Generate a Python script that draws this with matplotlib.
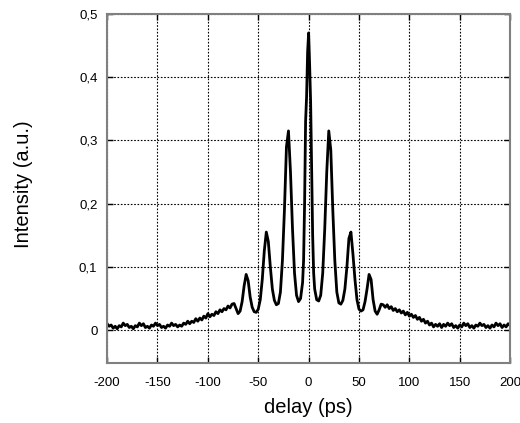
import numpy as np
import matplotlib.pyplot as plt

plt.rcParams['font.family'] = ['Liberation Sans', 'DejaVu Sans']

# delay (ps) / intensity (a.u.), in segments
delay_left = [-200, -198, -196, -194, -192, -190, -188, -186, -184, -182,
              -180, -178, -176, -174, -172, -170, -168, -166, -164, -162,
              -160, -158, -156, -154, -152, -150, -148, -146, -144, -142,
              -140, -138, -136, -134, -132, -130, -128, -126, -124, -122,
              -120, -118, -116, -114, -112, -110, -108, -106, -104, -102,
              -100, -98, -96, -94, -92, -90, -88, -86, -84, -82,
              -80, -78, -76]
int_left = [0.010, 0.006, 0.008, 0.003, 0.006, 0.002, 0.007, 0.005, 0.011, 0.007,
            0.009, 0.004, 0.006, 0.002, 0.007, 0.005, 0.011, 0.007, 0.010, 0.004,
            0.006, 0.003, 0.008, 0.006, 0.011, 0.007, 0.009, 0.004, 0.006, 0.003,
            0.008, 0.006, 0.011, 0.007, 0.009, 0.005, 0.008, 0.006, 0.011, 0.009,
            0.014, 0.010, 0.014, 0.012, 0.018, 0.014, 0.019, 0.016, 0.022, 0.019,
            0.026, 0.021, 0.025, 0.023, 0.029, 0.026, 0.032, 0.029, 0.034, 0.032,
            0.038, 0.035, 0.041]

delay_peaks_l = [-74, -72, -70, -68, -66, -64, -62, -60, -58, -56,
                 -54, -52, -50, -48, -46, -44, -42, -40, -38, -36,
                 -34, -32, -30, -28, -26, -24, -22, -20, -18, -16,
                 -14, -12, -10, -8, -6]
int_peaks_l = [0.042, 0.034, 0.026, 0.030, 0.045, 0.070, 0.088, 0.078, 0.052, 0.036,
               0.029, 0.028, 0.033, 0.048, 0.080, 0.125, 0.155, 0.140, 0.100, 0.065,
               0.047, 0.040, 0.042, 0.060, 0.110, 0.190, 0.290, 0.315, 0.250, 0.160,
               0.090, 0.055, 0.045, 0.050, 0.075]

delay_center = [-5, -4, -3, -2, -1, 0, 1, 2, 3, 4, 5]
int_center = [0.110, 0.200, 0.330, 0.370, 0.440, 0.470, 0.420, 0.360, 0.250, 0.150, 0.090]

delay_peaks_r = [6, 8, 10, 12, 14, 16, 18, 20, 22, 24,
                 26, 28, 30, 32, 34, 36, 38, 40, 42, 44,
                 46, 48, 50, 52, 54, 56, 58, 60, 62, 64,
                 66, 68, 70, 72, 74]
int_peaks_r = [0.065, 0.048, 0.046, 0.055, 0.090, 0.160, 0.250, 0.315, 0.285, 0.190,
               0.110, 0.060, 0.043, 0.041, 0.047, 0.065, 0.100, 0.145, 0.155, 0.120,
               0.080, 0.048, 0.033, 0.030, 0.032, 0.045, 0.065, 0.088, 0.080, 0.048,
               0.030, 0.025, 0.032, 0.041, 0.040]

delay_right = [76, 78, 80, 82, 84, 86, 88, 90, 92, 94,
               96, 98, 100, 102, 104, 106, 108, 110, 112, 114,
               116, 118, 120, 122, 124, 126, 128, 130, 132, 134,
               136, 138, 140, 142, 144, 146, 148, 150, 152, 154,
               156, 158, 160, 162, 164, 166, 168, 170, 172, 174,
               176, 178, 180, 182, 184, 186, 188, 190, 192, 194,
               196, 198, 200]
int_right = [0.036, 0.040, 0.034, 0.037, 0.031, 0.034, 0.029, 0.032, 0.027, 0.030,
             0.024, 0.028, 0.022, 0.025, 0.020, 0.023, 0.017, 0.020, 0.014, 0.017,
             0.011, 0.014, 0.008, 0.011, 0.005, 0.009, 0.006, 0.010, 0.004, 0.009,
             0.006, 0.011, 0.007, 0.010, 0.004, 0.007, 0.003, 0.008, 0.005, 0.011,
             0.007, 0.010, 0.004, 0.007, 0.003, 0.008, 0.006, 0.011, 0.007, 0.009,
             0.004, 0.007, 0.003, 0.008, 0.005, 0.011, 0.007, 0.010, 0.004, 0.008,
             0.005, 0.010, 0.007]

x_ticks = [-200, -150, -100, -50, 0, 50, 100, 150, 200]
y_ticks = [0, 0.1, 0.2, 0.3, 0.4, 0.5]
y_labels = ['0', '0,1', '0,2', '0,3', '0,4', '0,5']

delay = delay_left + delay_peaks_l + delay_center + delay_peaks_r + delay_right
intensity = int_left + int_peaks_l + int_center + int_peaks_r + int_right

fig = plt.figure(figsize=(5.2, 4.23), dpi=100)
ax = fig.add_axes([0.206, 0.142, 0.775, 0.825])

ax.plot(delay, intensity, color='black', lw=2.0)

ax.set_xlim(-200, 200)
ax.set_ylim(-0.052, 0.5)
ax.set_xticks(x_ticks)
ax.set_xticklabels([str(t) for t in x_ticks])
ax.set_yticks(y_ticks)
ax.set_yticklabels(y_labels)
ax.grid(True, color='black', linestyle=(0, (1.5, 1.5)), lw=0.8)

for s in ax.spines.values():
    s.set_color('#808080')
    s.set_linewidth(1.5)
ax.tick_params(direction='in', length=4, width=1, top=True, right=True)
ax.tick_params(axis='x', labelsize=9.5, pad=10)
ax.tick_params(axis='y', labelsize=9.5, pad=7)

ax.set_xlabel('delay (ps)', fontsize=14.5)
ax.xaxis.set_label_coords(0.5, -0.10)
ax.set_ylabel('Intensity (a.u.)', fontsize=14.5)
ax.yaxis.set_label_coords(-0.185, 0.513)

plt.savefig('out.png', dpi=100)
